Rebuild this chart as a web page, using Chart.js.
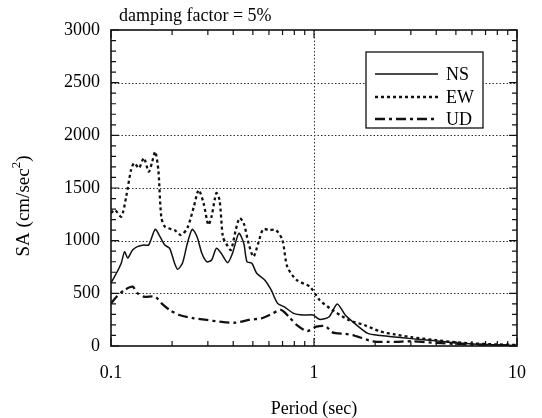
<!DOCTYPE html>
<html>
<head>
<meta charset="utf-8">
<script src="https://cdn.jsdelivr.net/npm/chart.js@4.4.1/dist/chart.umd.min.js"></script>
<style>
    html, body { margin: 0; padding: 0; background: #fff; }
    canvas { display: block; }
</style>
</head>
<body>
<canvas id="sa-chart" width="542" height="418"></canvas>
<script>
// spectra: period (sec) and SA (cm/sec^2)
const nsPeriod = [0.1, 0.1065, 0.1124, 0.1166, 0.1209, 0.1277, 0.1349, 0.1452, 0.1533, 0.1651, 0.1743, 0.1842, 0.1945, 0.2055, 0.2131, 0.2251, 0.2378, 0.2512, 0.2653, 0.2803, 0.2961, 0.3128, 0.3304, 0.3491, 0.3757, 0.3968, 0.4266, 0.4507, 0.4677, 0.4942, 0.5221, 0.5716, 0.6152, 0.6615, 0.7118, 0.7943, 0.8864, 0.989, 1.065, 1.188, 1.301, 1.425, 1.585, 1.842, 2.131, 2.5, 3, 4, 5, 6, 8, 10];
const nsSA = [600, 693, 788, 895, 835, 911, 943, 959, 959, 1108, 1038, 959, 927, 788, 728, 788, 975, 1108, 1038, 880, 800, 816, 927, 880, 791, 880, 1070, 975, 800, 785, 690, 627, 532, 405, 373, 310, 294, 294, 253, 278, 399, 294, 215, 120, 100, 85, 70, 50, 30, 20, 10, 5];

const ewPeriod = [0.1, 0.1045, 0.1124, 0.1188, 0.1255, 0.1301, 0.1374, 0.1452, 0.1533, 0.159, 0.1651, 0.1711, 0.1768, 0.1842, 0.2055, 0.221, 0.2378, 0.2559, 0.2703, 0.2856, 0.3017, 0.3128, 0.3304, 0.3426, 0.3556, 0.3687, 0.3895, 0.4115, 0.4299, 0.4507, 0.4761, 0.5029, 0.5313, 0.5611, 0.6039, 0.6501, 0.6989, 0.7382, 0.8208, 0.9539, 1.065, 1.231, 1.479, 1.769, 2.131, 2.5, 3, 4, 5, 6, 8, 10];
const ewSA = [1263, 1291, 1228, 1418, 1671, 1737, 1690, 1785, 1655, 1737, 1845, 1671, 1228, 1133, 1101, 1054, 1120, 1322, 1481, 1358, 1149, 1228, 1452, 1386, 1038, 975, 911, 1101, 1215, 1165, 975, 848, 975, 1108, 1101, 1101, 1006, 753, 627, 563, 437, 342, 247, 199, 136, 110, 85, 55, 35, 25, 15, 10];

const udPeriod = [0.1, 0.1065, 0.1166, 0.1277, 0.1349, 0.1452, 0.1651, 0.1774, 0.1945, 0.2171, 0.2559, 0.2961, 0.3426, 0.4115, 0.4761, 0.5514, 0.6039, 0.6866, 0.7517, 0.8236, 0.9262, 1.026, 1.141, 1.231, 1.425, 1.549, 1.95, 2.5, 3, 4, 5, 7, 10];
const udSA = [405, 468, 532, 563, 503, 468, 468, 405, 342, 294, 263, 247, 231, 221, 247, 263, 294, 342, 278, 199, 142, 183, 188, 130, 115, 104, 45, 40, 45, 30, 20, 10, 5];

const seriesNames = ['NS', 'EW', 'UD'];
const saGrid = [500, 1000, 1500, 2000, 2500];
const periodGrid = [1];
const periodLabels = [0.1, 1, 10];

const serif = "'Liberation Serif', 'DejaVu Serif', serif";
const ink = '#111';

function toPoints(px, py) {
    return px.map(function (p, i) { return { x: p, y: py[i] }; });
}

const styles = [
    { borderWidth: 1.5, borderDash: [] },
    { borderWidth: 2.3, borderDash: [3, 3] },
    { borderWidth: 2.3, borderDash: [10, 4, 3, 4] },
];

// frame, inward ticks, dotted grid, legend box and captions
const decor = {
    id: 'decor',
    beforeDatasetsDraw(chart) {
        const { ctx, chartArea: a, scales: { x, y } } = chart;
        ctx.save();
        ctx.strokeStyle = '#333';
        ctx.lineWidth = 1;
        ctx.setLineDash([1.5, 2]);
        ctx.beginPath();
        saGrid.forEach(function (v) {
            const py = Math.round(y.getPixelForValue(v)) + 0.5;
            ctx.moveTo(a.left, py);
            ctx.lineTo(a.right, py);
        });
        periodGrid.forEach(function (v) {
            const px = Math.round(x.getPixelForValue(v)) + 0.5;
            ctx.moveTo(px, a.top);
            ctx.lineTo(px, a.bottom);
        });
        ctx.stroke();
        ctx.restore();
    },
    afterDatasetsDraw(chart) {
        const { ctx, chartArea: a, scales: { x, y } } = chart;
        ctx.save();
        ctx.strokeStyle = ink;
        ctx.lineWidth = 1.6;
        ctx.strokeRect(a.left, a.top, a.right - a.left, a.bottom - a.top);

        ctx.lineWidth = 1.2;
        ctx.beginPath();
        for (let v = 0; v <= 3000; v += 100) {
            const py = y.getPixelForValue(v);
            const len = v % 500 === 0 ? 8 : 5;
            ctx.moveTo(a.left, py); ctx.lineTo(a.left + len, py);
            ctx.moveTo(a.right, py); ctx.lineTo(a.right - len, py);
        }
        [0.1, 1].forEach(function (dec) {
            for (let k = 1; k <= 10; k++) {
                const px = x.getPixelForValue(dec * k);
                const len = k === 1 || k === 10 ? 8 : 5;
                ctx.moveTo(px, a.bottom); ctx.lineTo(px, a.bottom - len);
                ctx.moveTo(px, a.top); ctx.lineTo(px, a.top + len);
            }
        });
        ctx.stroke();

        // caption
        ctx.fillStyle = '#000';
        ctx.font = '18px ' + serif;
        ctx.textBaseline = 'middle';
        ctx.textAlign = 'left';
        ctx.fillText('damping factor = 5%', a.left + 8, 16);

        // y axis title with a raised 2
        ctx.save();
        ctx.translate(24, (a.top + a.bottom) / 2 + 18);
        ctx.rotate(-Math.PI / 2);
        ctx.font = '19px ' + serif;
        const head = 'SA (cm/sec';
        const wHead = ctx.measureText(head).width;
        ctx.font = '13px ' + serif;
        const wSup = ctx.measureText('2').width;
        ctx.font = '19px ' + serif;
        const wTail = ctx.measureText(')').width;
        let cx = -(wHead + wSup + wTail) / 2;
        ctx.fillText(head, cx, 0);
        cx += wHead;
        ctx.font = '13px ' + serif;
        ctx.fillText('2', cx, -7);
        cx += wSup;
        ctx.font = '19px ' + serif;
        ctx.fillText(')', cx, 0);
        ctx.restore();

        // legend
        const bx = a.right - 151, by = a.top + 22, bw = 117, bh = 76;
        ctx.fillStyle = '#fff';
        ctx.fillRect(bx, by, bw, bh);
        ctx.lineWidth = 1.3;
        ctx.strokeStyle = ink;
        ctx.strokeRect(bx, by, bw, bh);
        ctx.font = '18px ' + serif;
        const rows = [22, 45, 67];
        chart.data.datasets.forEach(function (ds, i) {
            const ry = by + rows[i];
            ctx.beginPath();
            ctx.lineWidth = ds.borderWidth;
            ctx.setLineDash(ds.borderDash);
            ctx.moveTo(bx + 9, ry);
            ctx.lineTo(bx + 72, ry);
            ctx.stroke();
            ctx.setLineDash([]);
            ctx.fillStyle = '#000';
            ctx.fillText(ds.label, bx + 80, ry + 1);
        });
        ctx.restore();
    },
};

document.addEventListener('DOMContentLoaded', function () {
    let sa_chart = document.getElementById('sa-chart').getContext('2d');
    const seriesData = [
        toPoints(nsPeriod, nsSA),
        toPoints(ewPeriod, ewSA),
        toPoints(udPeriod, udSA),
    ];
    let saChart = new Chart(sa_chart, {
        type: 'line',
        data: {
            datasets: seriesNames.map(function (name, i) {
                return {
                    label: name,
                    data: seriesData[i],
                    borderColor: ink,
                    borderWidth: styles[i].borderWidth,
                    borderDash: styles[i].borderDash,
                    pointRadius: 0,
                    tension: 0.25,
                    fill: false,
                };
            }),
        },
        options: {
            responsive: false,
            animation: false,
            devicePixelRatio: 1,
            layout: { padding: { top: 30, right: 11, left: 0, bottom: 0 } },
            plugins: {
                legend: { display: false },
                tooltip: { enabled: false },
            },
            scales: {
                x: {
                    type: 'logarithmic',
                    min: 0.1,
                    max: 10,
                    grid: { display: false, drawTicks: false },
                    border: { display: false },
                    afterFit: function (scale) { scale.height = 72; },
                    ticks: {
                        autoSkip: false,
                        maxRotation: 0,
                        padding: 16,
                        color: '#000',
                        font: { family: serif, size: 18 },
                        callback: function (value) {
                            const hit = periodLabels.find(function (p) {
                                return Math.abs(p - value) < 1e-6;
                            });
                            return hit === undefined ? '' : String(hit);
                        },
                    },
                    title: {
                        display: true,
                        text: 'Period (sec)',
                        color: '#000',
                        padding: { top: 0, bottom: 0 },
                        font: { family: serif, size: 18, lineHeight: 1 },
                    },
                },
                y: {
                    min: 0,
                    max: 3000,
                    grid: { display: false, drawTicks: false },
                    border: { display: false },
                    afterFit: function (scale) { scale.width = 111; },
                    ticks: {
                        stepSize: 500,
                        padding: 11,
                        color: '#000',
                        font: { family: serif, size: 18 },
                        callback: function (value) { return String(value); },
                    },
                },
            },
        },
        plugins: [decor],
    });
});
</script>
</body>
</html>
